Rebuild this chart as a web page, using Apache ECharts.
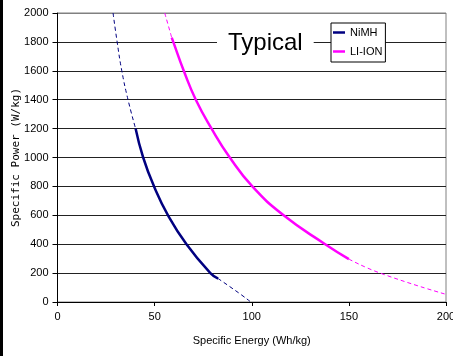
<!DOCTYPE html>
<html>
<head>
<meta charset="utf-8">
<script src="https://cdn.jsdelivr.net/npm/echarts@6/dist/echarts.min.js"></script>
<style>
html,body{margin:0;padding:0;background:#fff;}
#chart{width:453px;height:356px;}
</style>
</head>
<body>
<div id="chart"></div>
<script>
// Specific energy (Wh/kg), specific power (W/kg)
var nimhDashTop = [[28.6,2000],[30.7,1800],[33.1,1600],[36.3,1400],[40.2,1200]];
var nimhSolid = [[40.2,1200],[44.1,1000],[49.7,800],[56.9,600],[66.4,400],[78.7,200],[82.7,162]];
var nimhDashBottom = [[82.7,162],[93.8,58],[99.5,0]];

var lionDashTop = [[55.2,2000],[58.8,1830]];
var lionSolid = [[58.8,1830],[59.6,1800],[65,1600],[71.2,1400],[79.3,1200],[88.7,1000],[100.3,800],[116.4,600],[137.8,400],[150,297]];
var lionDashBottom = [[150,297],[165.9,201],[200,53]];

var seriesNames = ['NiMH','LI-ION'];
var xTicks = [0,50,100,150,200];
var yTicks = [0,200,400,600,800,1000,1200,1400,1600,1800,2000];

var NAVY = '#000080', MAG = '#FF00FF';
var font = 'Liberation Sans, Arial, sans-serif';

function solid(name, data, color){
  return {name:name, type:'line', data:data, smooth:0.5, symbol:'none',
    lineStyle:{color:color, width:2.5}, itemStyle:{color:color}, z:3};
}
function dashed(name, data, color){
  return {name:name, type:'line', data:data, smooth:0.5, symbol:'none',
    lineStyle:{color:color, width:1, type:[4,3]}, itemStyle:{color:color}, z:2};
}

var chart = echarts.init(document.getElementById('chart'), null, {renderer:'canvas'});
chart.setOption({
  backgroundColor:'#fff',
  animation:false,
  title:{
    text:'Typical', left:217, top:29, padding:[2,11,2,11],
    backgroundColor:'#fff',
    textStyle:{fontFamily:font, fontSize:24, fontWeight:'normal', color:'#000'}
  },
  legend:{
    data:seriesNames, orient:'vertical', left:331, top:23,
    icon:'rect', itemWidth:12, itemHeight:2.5, itemGap:8,
    padding:[4,3,5,2], borderColor:'#000', borderWidth:1, backgroundColor:'#fff',
    textStyle:{fontFamily:font, fontSize:11, color:'#000'}
  },
  grid:{left:57.5, right:7, top:13, bottom:54, containLabel:false, outerBoundsMode:'none',
    show:true, borderColor:'#808080', borderWidth:1, backgroundColor:'transparent'},
  xAxis:{
    type:'value', min:xTicks[0], max:xTicks[xTicks.length-1], interval:50,
    name:'Specific Energy (Wh/kg)', nameLocation:'middle', nameGap:33, nameMoveOverlap:false,
    nameTextStyle:{fontFamily:font, fontSize:11, color:'#000'},
    axisLine:{lineStyle:{color:'#000', width:1}},
    axisTick:{show:true, length:4, lineStyle:{color:'#000'}},
    axisLabel:{fontFamily:font, fontSize:11, color:'#000', margin:9},
    splitLine:{show:false}
  },
  yAxis:{
    type:'value', min:yTicks[0], max:yTicks[yTicks.length-1], interval:200,
    name:'Specific Power (W/kg)', nameLocation:'middle', nameGap:36, nameMoveOverlap:false,
    nameTextStyle:{fontFamily:'DejaVu Sans Mono', fontSize:11, color:'#000'},
    axisLine:{show:true, lineStyle:{color:'#000', width:1}},
    axisTick:{show:true, length:5, lineStyle:{color:'#000'}},
    axisLabel:{fontFamily:font, fontSize:11, color:'#000', margin:9,
      formatter:function(v){ return String(v); }},
    splitLine:{show:true, lineStyle:{color:['#000','#222','#222','#222','#222','#222','#222','#222','#222','#222','#808080'], width:1}}
  },
  graphic:[{type:'rect', left:0, top:0, shape:{width:3, height:356}, style:{fill:'#000'}, z:100}],
  series:[
    solid('NiMH', nimhSolid, NAVY),
    solid('LI-ION', lionSolid, MAG),
    dashed('NiMH ext1', nimhDashTop, NAVY),
    dashed('NiMH ext2', nimhDashBottom, NAVY),
    dashed('LI-ION ext1', lionDashTop, MAG),
    dashed('LI-ION ext2', lionDashBottom, MAG)
  ]
});
</script>
</body>
</html>
